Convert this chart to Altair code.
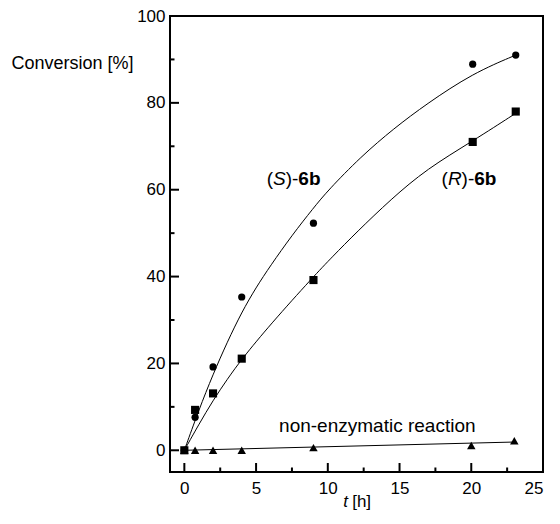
import altair as alt
import pandas as pd

# measured points
t_pts = [0, 0.75, 2, 4, 9, 20.1, 23.1]
s_conv = [0, 7.6, 19.2, 35.3, 52.3, 88.9, 91.0]
r_conv = [0, 9.3, 13.1, 21.1, 39.2, 71.0, 78.0]
t_tri = [0, 0.75, 2, 4, 9, 20, 23]
n_conv = [0, 0, 0, 0, 0.6, 1.1, 2.2]

# fitted curves
s_fit_t = [0, 1, 2, 3, 4, 5, 6, 7.5, 9, 10, 12.3, 14.6, 16.9, 20.1, 23.1]
s_fit = [0, 9.2, 17.5, 25, 31.8, 37.5, 42.5, 49.5, 55.8, 59.8, 67.6, 74.1, 79.8, 86.8, 91.0]
r_fit_t = [0, 1, 2, 3, 4, 6, 9, 10.3, 12, 14.4, 16.9, 20.1, 23.1]
r_fit = [0, 5.9, 11.5, 16.4, 21.0, 29.0, 40.0, 44.5, 50.2, 57.8, 64.8, 71.2, 77.6]
n_fit_t = [0, 23]
n_fit = [0, 1.9]

x_major = [0, 5, 10, 15, 20]
x_minor = [2.5, 7.5, 12.5, 17.5, 22.5]
y_major = [0, 20, 40, 60, 80]
y_minor = [10, 30, 50, 70, 90]
x_labels = [0, 5, 10, 15, 20, 25]
y_labels = [0, 20, 40, 60, 80, 100]

W, H = 373, 456
FONT = "Liberation Sans"

xs = alt.Scale(domain=[-1, 25], nice=False, zero=False)
ys = alt.Scale(domain=[-5, 100], nice=False, zero=False)

pts = pd.DataFrame({"t": t_pts, "S": s_conv, "R": r_conv})
tri = pd.DataFrame({"t": t_tri, "N": n_conv})
sfit = pd.DataFrame({"t": s_fit_t, "v": s_fit})
rfit = pd.DataFrame({"t": r_fit_t, "v": r_fit})
nfit = pd.DataFrame({"t": n_fit_t, "v": n_fit})

X = alt.X("t:Q", scale=xs, axis=alt.Axis(values=x_labels, ticks=False, domain=False, grid=False,
                                           labelFontSize=17, labelFont=FONT, labelColor="black",
                                           labelPadding=8, title=None))
Y_axis = alt.Axis(values=y_labels, ticks=False, domain=False, grid=False, labelFontSize=17,
                  labelFont=FONT, labelColor="black", labelPadding=5,
                  title="Conversion [%]", titleAngle=0, titleX=-159, titleY=47,
                  titleAlign="left", titleBaseline="middle", titleFontSize=18,
                  titleFont=FONT, titleFontWeight="normal", titleColor="black")

s_line = alt.Chart(sfit).mark_line(color="black", strokeWidth=1, interpolate="basis").encode(
    x=X, y=alt.Y("v:Q", scale=ys, axis=Y_axis))
r_line = alt.Chart(rfit).mark_line(color="black", strokeWidth=1, interpolate="basis").encode(
    x=alt.X("t:Q", scale=xs), y=alt.Y("v:Q", scale=ys))
n_line = alt.Chart(nfit).mark_line(color="black", strokeWidth=1).encode(
    x=alt.X("t:Q", scale=xs), y=alt.Y("v:Q", scale=ys))

s_pts = alt.Chart(pts).mark_point(shape="circle", filled=True, color="black", size=52, opacity=1).encode(
    x=alt.X("t:Q", scale=xs), y=alt.Y("S:Q", scale=ys))
r_pts = alt.Chart(pts).mark_point(shape="square", filled=True, color="black", size=66, opacity=1).encode(
    x=alt.X("t:Q", scale=xs), y=alt.Y("R:Q", scale=ys))
n_pts = alt.Chart(tri).mark_point(shape="triangle-up", filled=True, color="black", size=72, opacity=1).encode(
    x=alt.X("t:Q", scale=xs), y=alt.Y("N:Q", scale=ys))

# frame as four rules
one = pd.DataFrame({"a": [0]})
frame = [
    alt.Chart(one).mark_rule(color="black", strokeWidth=2).encode(x=alt.value(0), y=alt.value(0), y2=alt.value(H)),
    alt.Chart(one).mark_rule(color="black", strokeWidth=2).encode(x=alt.value(W), y=alt.value(0), y2=alt.value(H)),
    alt.Chart(one).mark_rule(color="black", strokeWidth=2).encode(y=alt.value(0), x=alt.value(-1), x2=alt.value(W + 1)),
    alt.Chart(one).mark_rule(color="black", strokeWidth=2).encode(y=alt.value(H), x=alt.value(-1), x2=alt.value(W + 1)),
]

# inward ticks
def xticks(vals, length):
    return alt.Chart(pd.DataFrame({"v": vals})).mark_rule(color="black", strokeWidth=2).encode(
        x=alt.X("v:Q", scale=xs), y=alt.value(H), y2=alt.value(H - length))

def yticks(vals, length):
    return alt.Chart(pd.DataFrame({"v": vals})).mark_rule(color="black", strokeWidth=2).encode(
        y=alt.Y("v:Q", scale=ys), x=alt.value(0), x2=alt.value(length))

ticks = [xticks(x_major, 9), xticks(x_minor, 4.5), yticks(y_major, 9), yticks(y_minor, 4.5)]

# annotations
FS = 19
def piece(text, x, y, dx, style="normal", weight="normal", size=FS, align="left"):
    return alt.Chart(pd.DataFrame({"x": [x], "y": [y], "txt": [text]})).mark_text(
        font=FONT, fontSize=size, fontStyle=style, fontWeight=weight, align=align,
        baseline="alphabetic", dx=dx, color="black").encode(
        x=alt.X("x:Q", scale=xs), y=alt.Y("y:Q", scale=ys), text="txt:N")

paren = 0.333 * FS
s_lab = [piece("(", 5.74, 61.0, 0),
         piece("S", 5.74, 61.0, paren, style="italic"),
         piece(")-", 5.74, 61.0, paren + 0.667 * FS),
         piece("6b", 5.74, 61.0, 2 * paren + 0.667 * FS + 0.333 * FS, weight="bold")]
r_lab = [piece("(", 17.93, 61.0, 0),
         piece("R", 17.93, 61.0, paren, style="italic"),
         piece(")-", 17.93, 61.0, paren + 0.722 * FS),
         piece("6b", 17.93, 61.0, 2 * paren + 0.722 * FS + 0.333 * FS, weight="bold")]
n_lab = [piece("non-enzymatic reaction", 13.45, 4.2, 0, align="center")]

def xtitle(text, dx, style):
    return alt.Chart(pd.DataFrame({"x": [11.07], "txt": [text]})).mark_text(
        font=FONT, fontSize=17, fontStyle=style, align="left", baseline="alphabetic",
        dx=dx, color="black").encode(x=alt.X("x:Q", scale=xs), y=alt.value(H + 35), text="txt:N")

xt = [xtitle("t", 0, "italic"), xtitle("[h]", 9, "normal")]

chart = alt.layer(*frame, s_line, r_line, n_line, s_pts, r_pts, n_pts, *ticks, *s_lab, *r_lab, *n_lab, *xt).properties(
    width=W, height=H,
    autosize=alt.AutoSizeParams(type="none"),
    padding={"left": 162, "top": 8, "right": 9, "bottom": 40},
).configure_view(stroke=None).configure(background="white")

chart.save("out.html", embed_options={"renderer": "svg", "actions": False})
